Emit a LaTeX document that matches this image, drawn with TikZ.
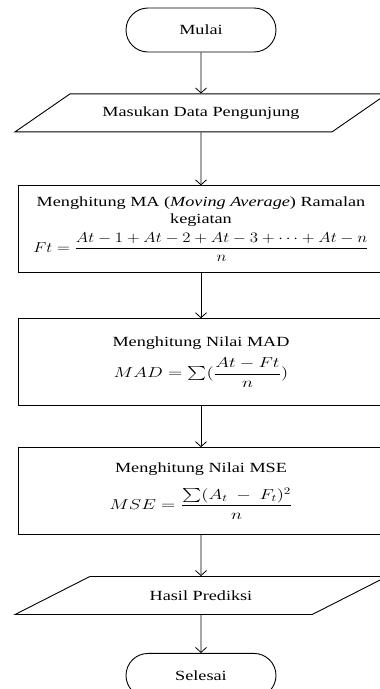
\documentclass[tikz,border=0pt]{standalone}
\usepackage{fontspec}
\setmainfont{Liberation Serif}
\usepackage{amsmath,amssymb}
\usepackage{graphicx}
\usetikzlibrary{arrows.meta,positioning,shapes.geometric}
\newcommand{\lebar}[1]{\scalebox{1.3}[1]{#1}}

\begin{document}
\begin{tikzpicture}[x=1pt, y=-1pt, >={Straight Barb[length=5pt,width=11pt]},
  every node/.style={align=center},
  terminal/.style={draw, rectangle, rounded corners=22pt, minimum width=150pt, minimum height=44pt, line width=0.9pt},
  masukan/.style={draw, trapezium, trapezium left angle=27, trapezium right angle=153, trapezium stretches=true, minimum width=373pt, minimum height=38pt, line width=0.9pt},
  proses/.style={draw, rectangle, minimum width=366pt, minimum height=87pt, line width=0.9pt},
  panah/.style={->, line width=0.8pt}]
  \fontsize{14}{17}\selectfont
  \useasboundingbox (0,0) rectangle (380,689);
  \clip (0,0) rectangle (380,689);
  \node[terminal] (mulai) at (201,30) {\lebar{Mulai}};
  \node[masukan, below=41pt of mulai] (input) {\lebar{Masukan Data Pengunjung}};
  \node[proses, below=53pt of input] (ma) {\lebar{Menghitung MA (\textit{Moving Average}) Ramalan}\\ \lebar{kegiatan}\\[5pt]
    \scalebox{1.17}[1]{$Ft=\dfrac{At-1+At-2+At-3+\cdots+At-n}{n}$}};
  \node[proses, below=45pt of ma] (mad) {\lebar{Menghitung Nilai MAD}\\[7pt] \lebar{$MAD=\sum(\dfrac{At-Ft}{n})$}};
  \node[proses, below=41pt of mad] (mse) {\lebar{Menghitung Nilai MSE}\\[11pt] \lebar{$MSE=\dfrac{\sum(A_t\ -\ F_t)^2}{n}$}};
  \node[masukan, below=41pt of mse] (hasil) {\lebar{Hasil Prediksi}};
  \node[terminal, below=38pt of hasil] (selesai) {\lebar{Selesai}};
  \draw[panah] (mulai) -- (input); \draw[panah] (input) -- (ma); \draw[panah] (ma) -- (mad);
  \draw[panah] (mad) -- (mse); \draw[panah] (mse) -- (hasil); \draw[panah] (hasil) -- (selesai);
\end{tikzpicture}
\end{document}
